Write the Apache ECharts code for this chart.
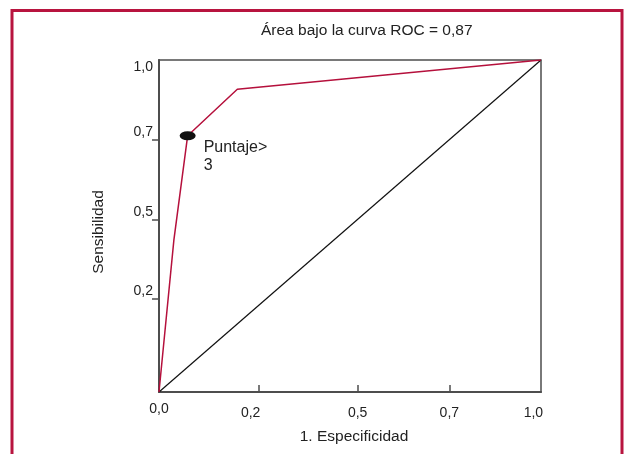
<!DOCTYPE html>
<html>
<head>
<meta charset="utf-8">
<script src="https://cdn.jsdelivr.net/npm/echarts@6/dist/echarts.min.js"></script>
<style>
html,body{margin:0;padding:0;background:#fff;}
#c{width:625px;height:454px;}
</style>
</head>
<body>
<div id="c"></div>
<script>
// ROC curve values (1 - especificidad, sensibilidad)
const rocX = [0, 0.039, 0.075, 0.205, 1];
const rocY = [0, 0.458, 0.772, 0.912, 1];
const cutIndex = 2; // "Puntaje> 3"
const diagX = [0, 1];
const diagY = [0, 1];

// Tick labels and where the reference draws them
const xTickLabels = ['0,0', '0,2', '0,5', '0,7', '1,0'];
const xLabelPos = [0, 0.24, 0.52, 0.76, 0.98];
const xTickPos = [0.26, 0.52, 0.76];
const yTickLabels = ['0,2', '0,5', '0,7', '1,0'];
const yLabelPos = [0.28, 0.52, 0.76, 1];
const yTickPos = [0.28, 0.52, 0.76];

const titleText = 'Área bajo la curva ROC = 0,87';
const xName = '1. Especificidad';
const yName = 'Sensibilidad';
const cutLabel = 'Puntaje>\n3';

function nearestIdx(arr, v) {
  let b = 0;
  for (let i = 1; i < arr.length; i++) if (Math.abs(arr[i] - v) < Math.abs(arr[b] - v)) b = i;
  return b;
}

const chart = echarts.init(document.getElementById('c'));
const font = 'Liberation Sans, Arial, sans-serif';
const axisCol = '#4d4d4d';
const txtCol = '#222';

chart.setOption({
  animation: false,
  backgroundColor: '#fff',
  textStyle: { fontFamily: font },
  title: {
    text: titleText,
    left: 256, top: 18,
    textStyle: { fontFamily: font, fontSize: 15.5, fontWeight: 'normal', color: txtCol }
  },
  graphic: [{
    type: 'rect',
    shape: { x: 12, y: 10.5, width: 610, height: 500 },
    style: { fill: 'none', stroke: '#b8143f', lineWidth: 3 },
    silent: true
  }],
  grid: {
    left: 159, right: 84, top: 60, bottom: 62,
    show: true, borderColor: axisCol, borderWidth: 1.5, backgroundColor: 'transparent'
  },
  xAxis: {
    type: 'value', min: 0, max: 1,
    name: xName, nameLocation: 'middle', nameGap: 37,
    nameTextStyle: { fontFamily: font, fontSize: 15.5, color: txtCol, padding: [0, 0, 0, 8] },
    axisLine: { show: true, lineStyle: { color: axisCol, width: 2 } },
    axisTick: { show: true, inside: true, length: 7, customValues: xTickPos, lineStyle: { color: axisCol, width: 1.5 } },
    axisLabel: {
      show: true, margin: 21, verticalAlign: 'middle', customValues: xLabelPos,
      fontFamily: font, fontSize: 14, color: txtCol,
      formatter: function (v) {
        const i = nearestIdx(xLabelPos, v);
        return i === 0 ? '{a|' + xTickLabels[i] + '}' : xTickLabels[i];
      },
      rich: { a: { fontFamily: font, fontSize: 14, color: txtCol, padding: [0, 0, 8, 0] } }
    },
    splitLine: { show: false }
  },
  yAxis: {
    type: 'value', min: 0, max: 1,
    name: yName, nameLocation: 'middle', nameGap: 52,
    nameTextStyle: { fontFamily: font, fontSize: 15.5, color: txtCol, padding: [0, 12, 0, 0] },
    axisLine: { show: true, lineStyle: { color: axisCol, width: 2 } },
    axisTick: { show: true, inside: false, length: 7, customValues: yTickPos, lineStyle: { color: axisCol, width: 1.5 } },
    axisLabel: {
      show: true, margin: 6, customValues: yLabelPos,
      fontFamily: font, fontSize: 14, color: txtCol,
      formatter: function (v) {
        const i = nearestIdx(yLabelPos, v);
        return (i === yLabelPos.length - 1 ? '{d|' : '{u|') + yTickLabels[i] + '}';
      },
      rich: {
        u: { fontFamily: font, fontSize: 14, color: txtCol, padding: [0, 0, 15, 0] },
        d: { fontFamily: font, fontSize: 14, color: txtCol, padding: [14, 0, 0, 0] }
      }
    },
    splitLine: { show: false }
  },
  series: [
    {
      type: 'line', name: 'diag',
      data: diagX.map((x, i) => [x, diagY[i]]),
      symbol: 'none',
      lineStyle: { color: '#111', width: 1.2 },
      z: 2
    },
    {
      type: 'line', name: 'roc',
      data: rocX.map((x, i) => [x, rocY[i]]),
      symbol: 'none',
      lineStyle: { color: '#b5103c', width: 1.5 },
      z: 3
    },
    {
      type: 'scatter', name: 'corte',
      data: [[rocX[cutIndex], rocY[cutIndex]]],
      symbol: 'circle', symbolSize: [16, 9],
      itemStyle: { color: '#111', opacity: 1 },
      label: {
        show: true, position: 'right', distance: 8, offset: [0, 21],
        formatter: cutLabel,
        fontFamily: font, fontSize: 16, lineHeight: 18, color: txtCol, align: 'left', opacity: 1
      },
      z: 4
    }
  ]
});
</script>
</body>
</html>
